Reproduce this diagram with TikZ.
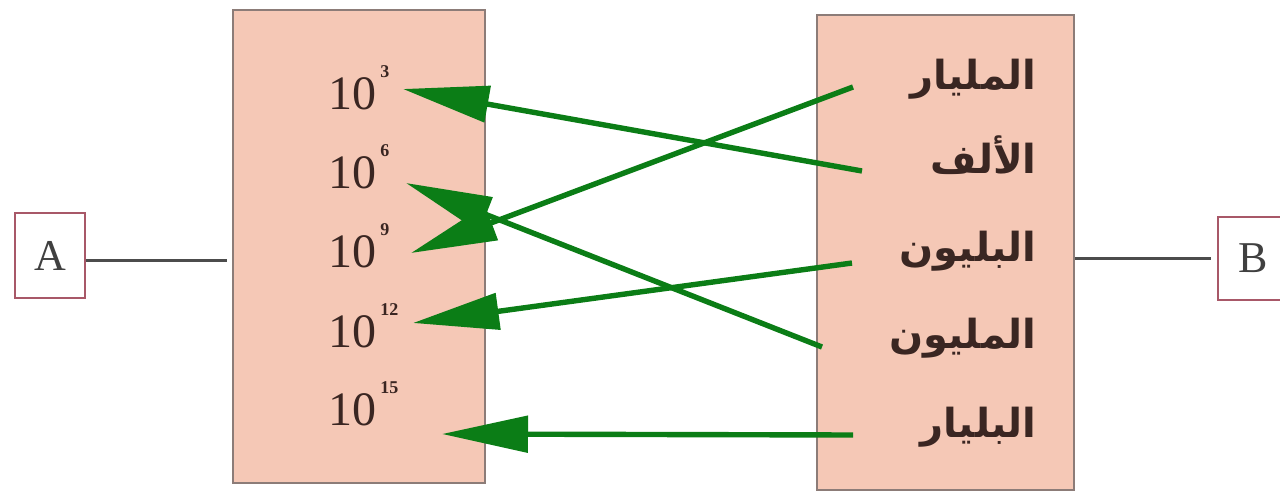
\documentclass[tikz,border=0pt]{standalone}
\usepackage{fontspec}
\setmainfont{Liberation Serif}
\newfontfamily\arabicfont[Script=Arabic]{DejaVu Sans}
\usetikzlibrary{arrows.meta}
\TeXXeTstate=1
\definecolor{boxfill}{HTML}{F5C8B6}
\definecolor{boxline}{HTML}{8C7C78}
\definecolor{tagline}{HTML}{A85868}
\definecolor{ink}{HTML}{3A2622}
\definecolor{arrgreen}{HTML}{0B7D16}
\newcommand{\tenpow}[1]{10\hspace{2pt}\raisebox{16pt}{\fontsize{9}{9}\selectfont\bfseries #1}}

\begin{document}
\begin{tikzpicture}[x=0.5pt,y=-0.5pt,
  panel/.style={draw=boxline,line width=1pt,fill=boxfill,inner sep=0pt},
  tag/.style={draw=tagline,line width=1pt,fill=white,inner sep=0pt,minimum width=35pt,font=\fontsize{22}{22}\selectfont,text=black!75},
  num/.style={anchor=base west,inner sep=0pt,font=\fontsize{24}{28}\selectfont,text=ink},
  word/.style={anchor=base east,inner sep=0pt,font=\arabicfont\bfseries\fontsize{20}{24}\selectfont,text=ink},
  link/.style={draw=black!70,line width=1.5pt},
  arr/.style={draw=arrgreen,line width=2.7pt,-{Triangle[length=43pt,width=18pt]}}]
\useasboundingbox (0,0) rectangle (1280,492);
% the two panels
\node[panel,minimum width=126pt,minimum height=236.5pt] (L) at (359,246.5) {};
\node[panel,minimum width=128.5pt,minimum height=237.5pt] (R) at (945.5,252.5) {};
% side tags
\node[tag,minimum height=42.5pt] (A) at (50,255.5) {A};
\node[tag,minimum height=41.5pt] (B) at (1253,258.5) {B};
\draw[link,shorten >=2.5pt] ([yshift=-2.5pt]A.east) -- ([yshift=-2.5pt]A.east -| L.west);
\draw[link,shorten >=3pt] (B.west -| R.east) -- (B.west);
% powers of ten
\foreach \e/\y in {3/110,6/188,9/267,12/347,15/425}
  \node[num] (n\e) at (328,\y) {\tenpow{\e}};
% names
\foreach \w/\y [count=\i] in {المليار/90,الألف/173,البليون/261,المليون/348,البليار/437}
  \node[word] (w\i) at (1037,\y) {\beginR\w\endR};
% arrow ends
\coordinate (s1) at (853,87);
\coordinate (s2) at (862,171);
\coordinate (s3) at (852,263);
\coordinate (s4) at (822,347);
\coordinate (s5) at (853,435);
\coordinate (t3) at (403,89);
\coordinate (t6) at (406,183);
\coordinate (t9) at (411,253);
\coordinate (t12) at (413,323);
\coordinate (t15) at (442,434);
\foreach \a/\b in {2/3,1/9,4/6,3/12,5/15}
  \draw[arr] (s\a) -- (t\b);
\end{tikzpicture}
\end{document}
